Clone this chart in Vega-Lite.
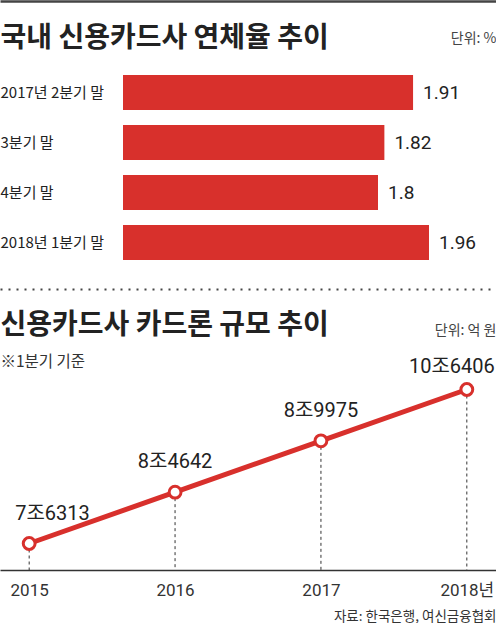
{
  "$schema": "https://vega.github.io/schema/vega-lite/v6.json",
  "padding": 0,
  "spacing": 0,
  "background": "white",
  "config": {
    "view": {"stroke": null},
    "font": "Roboto, Noto Sans CJK KR, sans-serif",
    "axis": {"grid": false, "titleFont": "Noto Sans CJK KR", "labelFont": "Roboto, Noto Sans CJK KR"},
    "concat": {"spacing": 0}
  },
  "vconcat": [
    {
      "width": 496,
      "height": 289,
      "data": {
        "values": [
          {"period": "2017년 2분기 말", "rate": 1.91},
          {"period": "3분기 말", "rate": 1.82},
          {"period": "4분기 말", "rate": 1.8},
          {"period": "2018년 1분기 말", "rate": 1.96}
        ]
      },
      "encoding": {
        "y": {
          "field": "period",
          "type": "nominal",
          "sort": null,
          "scale": {"range": [75, 260], "paddingInner": 0.3, "paddingOuter": 0},
          "axis": {
            "labelAlign": "left",
            "labelPadding": 0,
            "ticks": false,
            "tickSize": 0,
            "domain": false,
            "labelFontSize": 15,
            "labelColor": "#222",
            "labelFont": "Noto Sans CJK KR",
            "labelLimit": 0,
            "title": "국내 신용카드사 연체율 추이",
            "titleAngle": 0,
            "titleX": 0,
            "titleY": 38,
            "titleAlign": "left",
            "titleBaseline": "middle",
            "titleFontSize": 28,
            "titleFontWeight": "bold",
            "titleColor": "#222"
          }
        }
      },
      "layer": [
        {
          "mark": {"type": "bar", "color": "#d8302c"},
          "encoding": {
            "x": {
              "field": "rate",
              "type": "quantitative",
              "scale": {"domain": [0.6141, 2.1702], "zero": false, "nice": false},
              "axis": {
                "orient": "top",
                "offset": -1,
                "domainWidth": 2.5,
                "domainColor": "#444",
                "labels": false,
                "ticks": false,
                "title": "단위: %",
                "titleX": 496,
                "titleY": 37,
                "titleAlign": "right",
                "titleBaseline": "middle",
                "titleFontSize": 14,
                "titleFontWeight": "normal",
                "titleColor": "#444"
              }
            },
            "x2": {"datum": 1}
          }
        },
        {
          "mark": {"type": "text", "align": "left", "baseline": "middle", "dx": 10, "fontSize": 19, "color": "#222", "font": "Roboto"},
          "encoding": {
            "x": {
              "field": "rate",
              "type": "quantitative",
              "axis": {
                "orient": "bottom",
                "domainWidth": 2,
                "domainColor": "#444",
                "domainDash": [2, 6],
                "labels": false,
                "ticks": false,
                "title": null
              }
            },
            "text": {"field": "rate", "type": "quantitative"}
          }
        }
      ],
      "resolve": {"axis": {"x": "independent"}}
    },
    {
      "width": 496,
      "height": 281,
      "data": {
        "values": [
          {"year": 2015, "amount": 7.6313, "label": "7조6313"},
          {"year": 2016, "amount": 8.4642, "label": "8조4642"},
          {"year": 2017, "amount": 8.9975, "label": "8조9975"},
          {"year": 2018, "amount": 10.6406, "label": "10조6406"}
        ]
      },
      "layer": [
        {
          "mark": {"type": "rule", "strokeDash": [3, 3], "color": "#333", "strokeWidth": 1},
          "encoding": {
            "x": {
              "field": "year",
              "type": "ordinal",
              "scale": {"type": "point", "padding": 0.2},
              "axis": {
                "orient": "top",
                "domain": false,
                "labels": false,
                "ticks": false,
                "title": "※1분기 기준",
                "titleX": 0,
                "titleY": 72,
                "titleAlign": "left",
                "titleBaseline": "middle",
                "titleFontSize": 15.5,
                "titleFontWeight": "normal",
                "titleColor": "#333"
              }
            },
            "y": {
              "field": "amount",
              "type": "ordinal",
              "sort": "descending",
              "scale": {"type": "point", "range": [100.5, 254.5], "padding": 0},
              "axis": {
                "orient": "right",
                "domain": false,
                "labels": false,
                "ticks": false,
                "title": "단위: 억 원",
                "titleAngle": 0,
                "titleX": 0,
                "titleY": 41,
                "titleAlign": "right",
                "titleBaseline": "middle",
                "titleFontSize": 14,
                "titleFontWeight": "normal",
                "titleColor": "#444"
              }
            },
            "y2": {"value": "height"}
          }
        },
        {
          "mark": {"type": "line", "color": "#d8302c", "strokeWidth": 5},
          "encoding": {
            "x": {
              "field": "year",
              "type": "ordinal",
              "scale": {"type": "point", "padding": 0.2},
              "axis": {
                "orient": "bottom",
                "domainColor": "#333",
                "domainWidth": 1.5,
                "ticks": false,
                "tickSize": 0,
                "labelPadding": 12,
                "labelFontSize": 17,
                "labelColor": "#333",
                "labelAngle": 0,
                "labelExpr": "datum.value == 2018 ? '2018년' : datum.label",
                "title": "자료: 한국은행, 여신금융협회",
                "titleX": 496,
                "titleY": 46,
                "titleAlign": "right",
                "titleBaseline": "middle",
                "titleFontSize": 13.5,
                "titleFontWeight": "normal",
                "titleColor": "#333"
              }
            },
            "y": {
              "field": "amount",
              "type": "ordinal",
              "sort": "descending",
              "scale": {"type": "point", "range": [100.5, 254.5], "padding": 0},
              "axis": {
                "orient": "left",
                "domain": false,
                "labels": false,
                "ticks": false,
                "title": "신용카드사 카드론 규모 추이",
                "titleAngle": 0,
                "titleX": 0,
                "titleY": 36,
                "titleAlign": "left",
                "titleBaseline": "middle",
                "titleFontSize": 28,
                "titleFontWeight": "bold",
                "titleColor": "#222"
              }
            }
          }
        },
        {
          "mark": {"type": "point", "filled": true, "fill": "white", "stroke": "#d8302c", "strokeWidth": 3, "size": 140, "opacity": 1},
          "encoding": {
            "x": {"field": "year", "type": "ordinal", "axis": null},
            "y": {"field": "amount", "type": "ordinal", "sort": "descending", "axis": null}
          }
        },
        {
          "transform": [{"filter": "datum.year == 2015"}],
          "mark": {"type": "text", "fontSize": 20, "color": "#222", "baseline": "middle", "align": "left", "dx": -14, "dy": -30},
          "encoding": {
            "x": {"field": "year", "type": "ordinal", "axis": null},
            "y": {"field": "amount", "type": "ordinal", "sort": "descending", "axis": null},
            "text": {"field": "label"}
          }
        },
        {
          "transform": [{"filter": "datum.year == 2016 || datum.year == 2017"}],
          "mark": {"type": "text", "fontSize": 20, "color": "#222", "baseline": "middle", "dy": -30},
          "encoding": {
            "x": {"field": "year", "type": "ordinal", "axis": null},
            "y": {"field": "amount", "type": "ordinal", "sort": "descending", "axis": null},
            "text": {"field": "label"}
          }
        },
        {
          "transform": [{"filter": "datum.year == 2018"}],
          "mark": {"type": "text", "fontSize": 20, "color": "#222", "baseline": "middle", "align": "right", "dx": 28, "dy": -23},
          "encoding": {
            "x": {"field": "year", "type": "ordinal", "axis": null},
            "y": {"field": "amount", "type": "ordinal", "sort": "descending", "axis": null},
            "text": {"field": "label"}
          }
        }
      ],
      "resolve": {"axis": {"x": "independent", "y": "independent"}}
    }
  ]
}
